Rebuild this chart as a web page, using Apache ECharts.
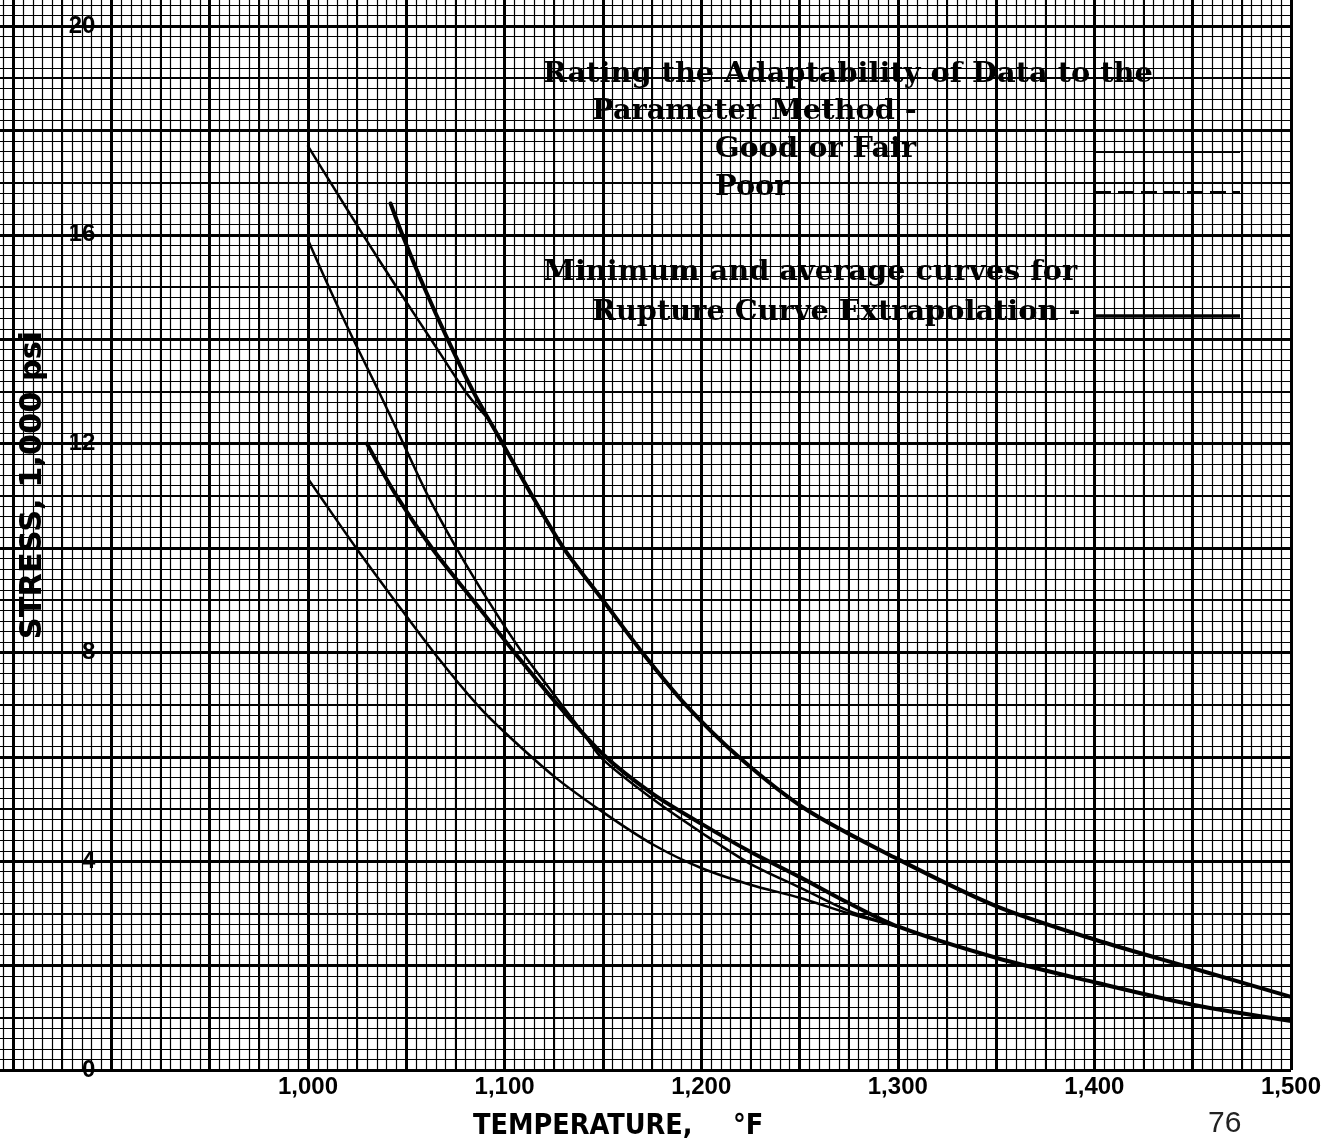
<!DOCTYPE html>
<html>
<head>
<meta charset="utf-8">
<script src="https://cdn.jsdelivr.net/npm/echarts@6/dist/echarts.min.js"></script>
<style>
  html, body { margin: 0; padding: 0; background: #ffffff; }
  #chart { width: 1335px; height: 1146px; }
</style>
</head>
<body>
<div id="chart"></div>
<script>
// Graph-paper extent (temperature in °F, stress in 1,000 psi)
const tempRange = [800, 1500];
const stressRange = [0, 20.6];

// Labelled ticks
const tempTicks = [1000, 1100, 1200, 1300, 1400, 1500];
const stressTicks = [0, 4, 8, 12, 16, 20];

// Parameter-method curves, [temperature, stress]
const paramCurveHigh = [
  [1000, 17.7], [1011.5, 17.0], [1028, 16.0], [1045, 15.0], [1062.5, 14.0],
  [1080, 13.0], [1091, 12.5]
];
const paramCurveMid = [
  [1000, 15.9], [1010.6, 15.0], [1023, 14.0], [1036, 13.0], [1048.5, 12.0],
  [1061, 11.0], [1075.5, 10.0], [1091.5, 9.0], [1108, 8.05], [1125, 7.2],
  [1140, 6.45], [1150, 5.95], [1175, 5.2], [1200, 4.55], [1225, 3.95],
  [1250, 3.5], [1275, 3.05], [1300, 2.75]
];
const paramCurveLow = [
  [1000, 11.33], [1006, 11.0], [1024.5, 10.0], [1044, 9.0], [1064, 8.0],
  [1086, 7.0], [1100, 6.47], [1125, 5.63], [1150, 4.94], [1175, 4.33],
  [1200, 3.87], [1225, 3.55], [1250, 3.3], [1275, 3.0], [1300, 2.74]
];

// Rupture-curve extrapolation: average and minimum
const averageCurve = [
  [1042, 16.6], [1048, 16.0], [1059, 15.0], [1071, 14.0], [1084, 13.0],
  [1099, 12.0], [1114, 11.0], [1130, 10.0], [1150, 9.0], [1170, 8.0],
  [1192, 7.0], [1219, 6.0], [1253, 5.0], [1300, 4.04], [1350, 3.14],
  [1400, 2.5], [1450, 1.95], [1500, 1.4]
];
const minimumCurve = [
  [1030, 12.0], [1045, 11.0], [1063, 10.0], [1084, 9.0], [1105, 8.0],
  [1127, 7.0], [1150, 6.05], [1175, 5.3], [1200, 4.72], [1225, 4.18],
  [1250, 3.7], [1275, 3.2], [1300, 2.75], [1350, 2.15], [1400, 1.68],
  [1450, 1.25], [1500, 0.94]
];

// Legend text block
const legendLines = [
  'Rating the Adaptability of Data to the',
  'Parameter Method -',
  'Good or Fair',
  'Poor',
  'Minimum and average curves for',
  'Rupture Curve Extrapolation -'
];

const INK = '#000000';
const serif = '"DejaVu Serif", "Liberation Serif", serif';
const sans = '"Liberation Sans", Arial, sans-serif';
const sansCond = '"DejaVu Sans Condensed", "DejaVu Sans", sans-serif';

function paperAxis(range, interval, width, position) {
  return {
    type: 'value',
    position: position,
    min: range[0],
    max: range[1],
    interval: interval,
    axisLine: { show: false },
    axisTick: { show: false },
    axisLabel: { show: false },
    splitLine: { show: true, lineStyle: { color: INK, width: width } }
  };
}

const fmtTemp = v => v.toLocaleString('en-US');

const xAxes = [
  paperAxis(tempRange, 5, 1.2, 'bottom'),
  paperAxis(tempRange, 25, 2, 'bottom'),
  paperAxis(tempRange, 50, 3, 'bottom'),
  {
    type: 'value', position: 'bottom',
    min: tempRange[0], max: tempRange[1], interval: 100,
    axisLine: { show: false }, axisTick: { show: false }, splitLine: { show: false },
    axisLabel: {
      show: true, margin: 5, color: INK,
      fontFamily: sans, fontWeight: 'bold', fontSize: 24,
      formatter: v => (tempTicks.includes(v) ? fmtTemp(v) : '')
    }
  }
];

const yAxes = [
  paperAxis(stressRange, 0.2, 1.2, 'left'),
  paperAxis(stressRange, 1, 2, 'left'),
  paperAxis(stressRange, 2, 3, 'left'),
  {
    type: 'value', min: stressRange[0], max: stressRange[1], interval: 4,
    position: 'left', offset: -196.6,
    axisLine: { show: false },
    splitLine: { show: false },
    axisTick: { show: true, inside: true, length: 17, lineStyle: { color: INK, width: 2.5 } },
    axisLabel: {
      show: true, margin: 16, color: INK,
      fontFamily: sans, fontWeight: 'bold', fontSize: 24,
      formatter: v => (stressTicks.includes(v) ? String(v) : '')
    }
  }
];

function curve(name, data, width) {
  return {
    name: name, type: 'line', data: data,
    xAxisIndex: 0, yAxisIndex: 0,
    showSymbol: false, smooth: 0.3, silent: true, z: 5,
    lineStyle: { color: INK, width: width, cap: 'round' }
  };
}

const legendY = [75, 112, 150, 188, 273, 313];
const legendX = [543, 592, 715, 715, 543, 592];

const graphic = legendLines.map((t, i) => ({
  type: 'text', z: 10, silent: true,
  style: {
    text: t, x: legendX[i], y: legendY[i],
    font: 'bold 28.8px ' + serif, fill: INK,
    textAlign: 'left', textVerticalAlign: 'middle'
  }
}));

graphic.push(
  { type: 'line', z: 10, silent: true,
    shape: { x1: 1095, y1: 152, x2: 1240, y2: 152 },
    style: { stroke: INK, lineWidth: 2 } },
  { type: 'line', z: 10, silent: true,
    shape: { x1: 1095, y1: 192, x2: 1240, y2: 192 },
    style: { stroke: INK, lineWidth: 2, lineDash: [16, 7] } },
  { type: 'line', z: 10, silent: true,
    shape: { x1: 1095, y1: 316, x2: 1240, y2: 316 },
    style: { stroke: INK, lineWidth: 3.5 } },
  { type: 'text', z: 10, silent: true,
    style: { text: 'TEMPERATURE,', x: 473, y: 1127,
      font: 'bold 28.5px ' + sansCond, fill: INK,
      textAlign: 'left', textVerticalAlign: 'middle' } },
  { type: 'text', z: 10, silent: true,
    style: { text: '°F', x: 733, y: 1127,
      font: 'bold 28.5px ' + sansCond, fill: INK,
      textAlign: 'left', textVerticalAlign: 'middle' } },
  { type: 'text', z: 10, silent: true, x: 33, y: 485, rotation: Math.PI / 2,
    style: { text: 'STRESS, 1,000 psi', x: 0, y: 0,
      font: 'bold 30.4px "DejaVu Sans", sans-serif', fill: INK,
      textAlign: 'center', textVerticalAlign: 'middle' } },
  { type: 'text', z: 10, silent: true,
    style: { text: '76', x: 1208, y: 1124,
      font: '30px ' + sans, fill: '#222',
      textAlign: 'left', textVerticalAlign: 'middle' } }
);

const option = {
  animation: false,
  backgroundColor: '#ffffff',
  grid: {
    left: -85.2, right: 44, top: -5.3, bottom: 76,
    containLabel: false, outerBoundsMode: 'none'
  },
  xAxis: xAxes,
  yAxis: yAxes,
  series: [
    curve('Parameter curve A', paramCurveHigh, 2.5),
    curve('Parameter curve B', paramCurveMid, 2.5),
    curve('Parameter curve C', paramCurveLow, 2.5),
    curve('Average rupture curve', averageCurve, 4),
    curve('Minimum rupture curve', minimumCurve, 4)
  ],
  graphic: graphic
};

const chart = echarts.init(document.getElementById('chart'), null, { renderer: 'canvas' });
chart.setOption(option);
</script>
</body>
</html>
